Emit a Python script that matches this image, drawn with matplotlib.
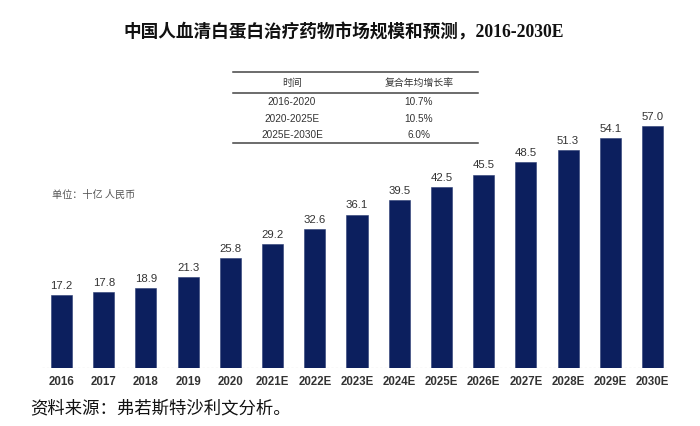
import matplotlib
matplotlib.use("Agg")
import matplotlib.pyplot as plt
from matplotlib.lines import Line2D

years = ["2016", "2017", "2018", "2019", "2020", "2021E", "2022E", "2023E",
         "2024E", "2025E", "2026E", "2027E", "2028E", "2029E", "2030E"]
values = [17.2, 17.8, 18.9, 21.3, 25.8, 29.2, 32.6, 36.1, 39.5, 42.5, 45.5,
          48.5, 51.3, 54.1, 57.0]
table_header = ["时间", "复合年均增长率"]
table_periods = ["2016-2020", "2020-2025E", "2025E-2030E"]
table_cagr = ["10.7%", "10.5%", "6.0%"]

title = "中国人血清白蛋白治疗药物市场规模和预测，2016-2030E"
unit_text = "单位：十亿 人民币"
source_text = "资料来源：弗若斯特沙利文分析。"

W, H = 700, 426
fig = plt.figure(figsize=(W / 100, H / 100), dpi=100)

def fx(px):
    return px / W

def fy(py):
    return 1 - py / H

ax = fig.add_axes([fx(40.4), fy(368), fx(673.6) - fx(40.4), fy(113) - fy(368)])
x = list(range(len(years)))
bars = ax.bar(x, values, width=0.5, color="#0c1f5e", edgecolor="#2a3c74", linewidth=0.4, zorder=2)
ax.set_xlim(-0.5, len(years) - 0.5)
ax.set_ylim(0, 60)
for s in ["top", "right", "left", "bottom"]:
    ax.spines[s].set_visible(False)
ax.axhline(0, xmin=0.002, xmax=0.99, color="#a0a0a0", linestyle=(0, (2, 2)), linewidth=0.8, zorder=1)
ax.set_yticks([])
ax.set_xticks(x)
ax.set_xticklabels(years, fontsize=8.3, color="#333333", fontweight="bold",
                   family=["Liberation Sans", "DejaVu Sans"])
ax.tick_params(axis="x", length=0, pad=6)
for xi, v in zip(x, values):
    ax.annotate(f"{v:.1f}", (xi, v), xytext=(0, 3), textcoords="offset points",
                ha="center", va="bottom", fontsize=8.2, color="#333333",
                family=["Liberation Sans", "DejaVu Sans"])

# title
fig.text(fx(343.5), fy(32), title, ha="center", va="center", fontsize=12.7, fontweight="bold",
         family=["Liberation Serif", "Noto Sans CJK SC"], color="#111111")

# table
tab_l, tab_r = fx(233), fx(478)
for py in [72, 93, 143]:
    fig.add_artist(Line2D([tab_l, tab_r], [fy(py), fy(py)], color="#444444", linewidth=1.1))
col1, col2 = fx(292), fx(419)
tfam = ["Liberation Sans", "Noto Sans CJK SC"]
fig.text(col1, fy(83), table_header[0], ha="center", va="center", fontsize=7.1, color="#333333", family=["Noto Sans CJK SC"])
fig.text(col2, fy(83), table_header[1], ha="center", va="center", fontsize=7.1, color="#333333", family=["Noto Sans CJK SC"])
for i, (p, c) in enumerate(zip(table_periods, table_cagr)):
    py = 102 + i * 16.5
    fig.text(col1, fy(py), p, ha="center", va="center", fontsize=7.2, color="#333333", family=tfam)
    fig.text(col2, fy(py), c, ha="center", va="center", fontsize=7.2, color="#333333", family=tfam)

fig.text(fx(52), fy(195), unit_text, ha="left", va="center", fontsize=7.3, color="#555555",
         family=["Noto Sans CJK SC"])

fig.text(fx(30), fy(408), source_text, ha="left", va="center", fontsize=12.5, color="#111111",
         family=["Noto Sans CJK SC"])

fig.savefig("out.png", dpi=100)
